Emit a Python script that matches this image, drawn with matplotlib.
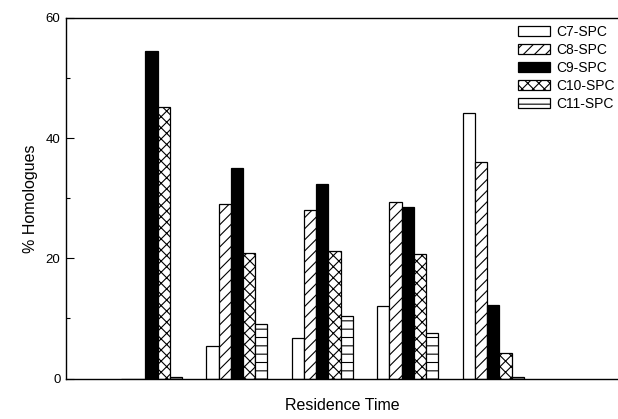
import matplotlib
matplotlib.use("Agg")
import matplotlib.pyplot as plt
import numpy as np
from matplotlib.patches import Patch

plt.rcParams['font.family'] = ['Liberation Sans', 'DejaVu Sans']
plt.rcParams['hatch.linewidth'] = 0.8

# Homologue distribution (%) for each residence time
series = ["C7-SPC", "C8-SPC", "C9-SPC", "C10-SPC", "C11-SPC"]
c7 = [0.0, 5.4, 6.7, 12.1, 44.2]
c8 = [0.0, 29.0, 28.1, 29.3, 36.0]
c9 = [54.5, 35.0, 32.4, 28.6, 12.3]
c10 = [45.2, 20.9, 21.3, 20.8, 4.3]
c11 = [0.3, 9.0, 10.4, 7.6, 0.2]
values = [c7, c8, c9, c10, c11]

facecolors = ["white", "white", "black", "white", "white"]
hatches = [None, "///", None, "xxx", "--"]

fig = plt.figure(figsize=(6.18, 4.19), dpi=100)
ax = fig.add_axes([66 / 618, 40.5 / 419, 1 - 66 / 618, 360.5 / 419])

groups = np.arange(1, len(c7) + 1)
width = 1 / 7
offsets = (np.arange(len(series)) - 2) * width

for vals, off, fc, h in zip(values, offsets, facecolors, hatches):
    ax.bar(groups + off, vals, width=width, color=fc, edgecolor="black",
           hatch=h, linewidth=0.9, zorder=2)

ax.set_xlim(0, 6.46)
ax.set_ylim(0, 60)
ax.set_yticks([0, 20, 40, 60])
ax.set_yticks([10, 30, 50], minor=True)
ax.set_xticks([])
ax.tick_params(axis="y", which="major", direction="in", length=6, width=0.8,
               labelsize=9.5, pad=4)
ax.tick_params(axis="y", which="minor", direction="in", length=3, width=0.8)
ax.spines["right"].set_visible(False)
for s in ("left", "top", "bottom"):
    ax.spines[s].set_linewidth(1.0)

ax.set_ylabel("% Homologues", fontsize=11.5)
ax.yaxis.set_label_coords(-0.05, 0.5)
ax.set_xlabel("Residence Time", fontsize=11.5)
ax.xaxis.set_label_coords(0.5, -0.054)

handles = [Patch(facecolor=fc, edgecolor="black", hatch=h, linewidth=0.9)
           for fc, h in zip(facecolors, hatches)]
ax.legend(handles, series, loc="upper left",
          bbox_to_anchor=(518 / 618, 1 - 25 / 419), bbox_transform=fig.transFigure,
          frameon=False, fontsize=10, borderpad=0, borderaxespad=0,
          handlelength=2.3, handleheight=0.72, handletextpad=0.45,
          labelspacing=0.28)

fig.savefig("out.png", dpi=100)
